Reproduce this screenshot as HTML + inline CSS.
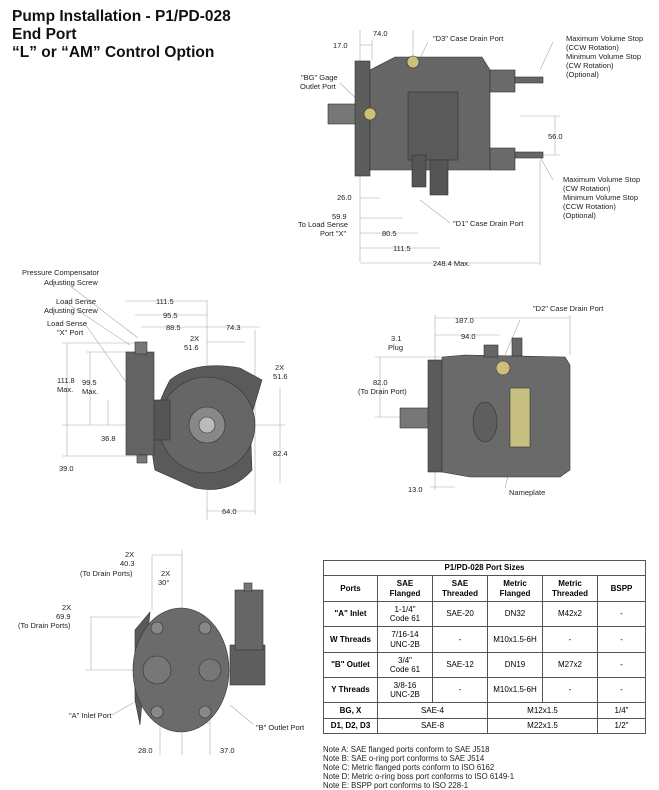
<!DOCTYPE html>
<html><head><meta charset="utf-8"><style>
body{margin:0;background:#fff;width:659px;height:790px;overflow:hidden;font-family:"Liberation Sans",sans-serif}
h1{position:absolute;left:12px;top:8px;margin:0;font-size:15.5px;line-height:18px;font-weight:bold;color:#111}
table{position:absolute;left:323px;top:560px;border-collapse:collapse;font-size:8px;width:323px}
td{border:1px solid #555;text-align:center;padding:0;line-height:9.5px}
.b{font-weight:bold}
.notes{position:absolute;left:323px;top:745px;font-size:7.8px;line-height:9px;color:#222}
svg{position:absolute;left:0;top:0}
svg text{font-family:"Liberation Sans",sans-serif;font-size:7.5px;fill:#222}
</style></head><body>
<h1>Pump Installation - P1/PD-028<br>End Port<br>“L” or “AM” Control Option</h1>
<svg width="659" height="790">
<g stroke="#aaa" stroke-width="0.6" fill="none">
<!-- top pump dims -->
<line x1="360" y1="30" x2="360" y2="262"/><line x1="413" y1="30" x2="413" y2="60"/>
<line x1="360" y1="45" x2="372" y2="45"/><line x1="372" y1="40" x2="372" y2="60"/>
<line x1="360" y1="198" x2="380" y2="198"/><line x1="360" y1="218" x2="403" y2="218"/>
<line x1="360" y1="233" x2="418" y2="233"/><line x1="360" y1="248" x2="440" y2="248"/>
<line x1="360" y1="263" x2="540" y2="263"/><line x1="540" y1="160" x2="540" y2="265"/>
<line x1="520" y1="116" x2="560" y2="116"/><line x1="520" y1="155" x2="560" y2="155"/>
<line x1="555" y1="116" x2="555" y2="155"/>
<!-- middle left dims -->
<line x1="125" y1="301" x2="207" y2="301"/><line x1="135" y1="315" x2="207" y2="315"/>
<line x1="141" y1="327" x2="207" y2="327"/><line x1="207" y1="327" x2="260" y2="327"/>
<line x1="207" y1="342" x2="245" y2="342"/><line x1="207" y1="300" x2="207" y2="520"/>
<line x1="62" y1="343" x2="140" y2="343"/><line x1="86" y1="352" x2="140" y2="352"/>
<line x1="67" y1="343" x2="67" y2="456"/><line x1="90" y1="352" x2="90" y2="425"/>
<line x1="108" y1="400" x2="108" y2="425"/><line x1="62" y1="425" x2="285" y2="425"/>
<line x1="62" y1="456" x2="140" y2="456"/><line x1="280" y1="388" x2="280" y2="483"/>
<line x1="207" y1="511" x2="255" y2="511"/><line x1="255" y1="330" x2="255" y2="515"/>
<!-- right pump dims -->
<line x1="435" y1="318" x2="570" y2="318"/><line x1="435" y1="335" x2="500" y2="335"/>
<line x1="435" y1="315" x2="435" y2="490"/><line x1="570" y1="315" x2="570" y2="355"/>
<line x1="375" y1="357" x2="440" y2="357"/><line x1="375" y1="417" x2="440" y2="417"/>
<line x1="380" y1="357" x2="380" y2="417"/><line x1="430" y1="487" x2="455" y2="487"/>
<!-- bottom pump dims -->
<line x1="152" y1="555" x2="182" y2="555"/><line x1="182" y1="550" x2="182" y2="755"/>
<line x1="152" y1="555" x2="152" y2="610"/><line x1="90" y1="617" x2="140" y2="617"/>
<line x1="91" y1="617" x2="91" y2="670"/><line x1="85" y1="670" x2="265" y2="670"/>
<line x1="160" y1="723" x2="182" y2="723"/><line x1="182" y1="723" x2="210" y2="723"/>
<line x1="160" y1="720" x2="160" y2="755"/><line x1="210" y1="720" x2="210" y2="755"/>
<!-- leader lines -->
<line x1="65" y1="282" x2="138" y2="338"/><line x1="65" y1="302" x2="130" y2="345"/>
<line x1="85" y1="324" x2="128" y2="385"/><line x1="340" y1="83" x2="368" y2="110"/>
<line x1="428" y1="42" x2="420" y2="58"/><line x1="420" y1="200" x2="450" y2="223"/>
<line x1="520" y1="320" x2="505" y2="355"/><line x1="515" y1="450" x2="505" y2="488"/>
<line x1="553" y1="42" x2="540" y2="70"/><line x1="553" y1="180" x2="540" y2="157"/>
<line x1="112" y1="715" x2="147" y2="695"/><line x1="253" y1="724" x2="230" y2="705"/>
</g>
<!-- top pump -->
<g stroke="#333" stroke-width="0.6">
<rect x="328" y="104" width="30" height="20" fill="#777"/>
<rect x="355" y="61" width="15" height="115" fill="#5d5d5d"/>
<path d="M370 70 L395 57 L482 57 L490 70 L490 170 L370 170 Z" fill="#666"/>
<rect x="490" y="70" width="25" height="22" fill="#6a6a6a"/><rect x="515" y="77" width="28" height="6" fill="#666"/>
<rect x="490" y="148" width="25" height="22" fill="#6a6a6a"/><rect x="515" y="152" width="28" height="6" fill="#666"/>
<rect x="408" y="92" width="50" height="68" fill="#5a5a5a"/>
<rect x="412" y="155" width="14" height="32" fill="#555"/><rect x="430" y="160" width="18" height="35" fill="#555"/>
<circle cx="413" cy="62" r="6" fill="#cbbf7a"/><circle cx="370" cy="114" r="6" fill="#cbbf7a"/>
</g>
<!-- middle left pump -->
<g stroke="#333" stroke-width="0.6">
<path d="M170 380 Q195 360 240 368 L262 380 L250 420 L252 470 Q230 495 195 488 L155 470 Q145 425 170 380Z" fill="#5a5a5a"/>
<circle cx="207" cy="425" r="48" fill="#666"/>
<circle cx="207" cy="425" r="18" fill="#888"/><circle cx="207" cy="425" r="8" fill="#bbb"/>
<rect x="150" y="400" width="20" height="40" fill="#555"/>
<rect x="126" y="352" width="28" height="103" fill="#636363"/>
<rect x="135" y="342" width="12" height="12" fill="#777"/><rect x="137" y="455" width="10" height="8" fill="#777"/>
</g>
<!-- right pump -->
<g stroke="#333" stroke-width="0.6">
<rect x="400" y="408" width="30" height="20" fill="#777"/>
<rect x="428" y="360" width="14" height="112" fill="#5b5b5b"/>
<path d="M442 357 L465 355 L565 357 L570 365 L570 470 L560 477 L470 477 L442 472 Z" fill="#6a6a6a"/>
<rect x="484" y="345" width="14" height="12" fill="#666"/><rect x="512" y="338" width="10" height="18" fill="#666"/>
<circle cx="503" cy="368" r="7" fill="#cbbf7a"/>
<rect x="510" y="388" width="20" height="59" fill="#c8c083"/>
<ellipse cx="485" cy="422" rx="12" ry="20" fill="#5e5e5e"/>
</g>
<!-- bottom pump -->
<g stroke="#333" stroke-width="0.6">
<path d="M135 630 L150 612 L140 725 L135 700Z" fill="#5a5a5a"/>
<rect x="230" y="645" width="35" height="40" fill="#5e5e5e"/>
<rect x="235" y="590" width="28" height="60" fill="#666"/><rect x="244" y="583" width="8" height="8" fill="#777"/>
<ellipse cx="181" cy="670" rx="48" ry="62" fill="#6b6b6b"/>
<circle cx="157" cy="670" r="14" fill="#777"/><circle cx="210" cy="670" r="11" fill="#777"/>
<circle cx="157" cy="628" r="6" fill="#888"/><circle cx="205" cy="628" r="6" fill="#888"/>
<circle cx="157" cy="712" r="6" fill="#888"/><circle cx="205" cy="712" r="6" fill="#888"/>
</g>
<!-- labels -->
<text x="373" y="36">74.0</text><text x="333" y="48">17.0</text>
<text x="433" y="41">"D3" Case Drain Port</text>
<text x="301" y="80">"BG" Gage</text><text x="300" y="89">Outlet Port</text>
<text x="566" y="41">Maximum Volume Stop</text><text x="566" y="50">(CCW Rotation)</text><text x="566" y="59">Minimum Volume Stop</text><text x="566" y="68">(CW Rotation)</text><text x="566" y="77">(Optional)</text>
<text x="548" y="139">56.0</text>
<text x="563" y="182">Maximum Volume Stop</text><text x="563" y="191">(CW Rotation)</text><text x="563" y="200">Minimum Volume Stop</text><text x="563" y="209">(CCW Rotation)</text><text x="563" y="218">(Optional)</text>
<text x="337" y="200">26.0</text><text x="332" y="219">59.9</text><text x="298" y="227">To Load Sense</text><text x="320" y="236">Port "X"</text>
<text x="382" y="236">80.5</text><text x="393" y="251">111.5</text><text x="433" y="266">248.4 Max.</text>
<text x="453" y="226">"D1" Case Drain Port</text>
<text x="22" y="275">Pressure Compensator</text><text x="44" y="285">Adjusting Screw</text>
<text x="56" y="304">Load Sense</text><text x="44" y="313">Adjusting Screw</text>
<text x="47" y="326">Load Sense</text><text x="57" y="335">"X" Port</text>
<text x="156" y="304">111.5</text><text x="163" y="318">95.5</text><text x="166" y="330">88.5</text><text x="226" y="330">74.3</text>
<text x="190" y="341">2X</text><text x="184" y="350">51.6</text>
<text x="275" y="370">2X</text><text x="273" y="379">51.6</text>
<text x="57" y="383">111.8</text><text x="57" y="392">Max.</text><text x="82" y="385">99.5</text><text x="82" y="394">Max.</text>
<text x="101" y="441">36.8</text><text x="59" y="471">39.0</text>
<text x="273" y="456">82.4</text><text x="222" y="514">64.0</text>
<text x="533" y="311">"D2" Case Drain Port</text>
<text x="455" y="323">187.0</text><text x="461" y="339">94.0</text>
<text x="391" y="341">3.1</text><text x="388" y="350">Plug</text>
<text x="373" y="385">82.0</text><text x="358" y="394">(To Drain Port)</text>
<text x="408" y="492">13.0</text><text x="509" y="495">Nameplate</text>
<text x="125" y="557">2X</text><text x="120" y="566">40.3</text><text x="80" y="576">(To Drain Ports)</text>
<text x="161" y="576">2X</text><text x="158" y="585">30°</text>
<text x="62" y="610">2X</text><text x="56" y="619">69.9</text><text x="18" y="628">(To Drain Ports)</text>
<text x="69" y="718">"A" Inlet Port</text><text x="256" y="730">"B" Outlet Port</text>
<text x="138" y="753">28.0</text><text x="220" y="753">37.0</text>
</svg>
<table>
<tr style="height:15px"><td colspan="6" class="b">P1/PD-028 Port Sizes</td></tr>
<tr style="height:26px" class="b"><td style="width:53px">Ports</td><td style="width:54px">SAE<br>Flanged</td><td style="width:54px">SAE<br>Threaded</td><td style="width:54px">Metric<br>Flanged</td><td style="width:54px">Metric<br>Threaded</td><td>BSPP</td></tr>
<tr style="height:25px"><td class="b">"A" Inlet</td><td>1-1/4"<br>Code 61</td><td>SAE-20</td><td>DN32</td><td>M42x2</td><td>-</td></tr>
<tr style="height:26px"><td class="b">W Threads</td><td>7/16-14<br>UNC-2B</td><td>-</td><td>M10x1.5-6H</td><td>-</td><td>-</td></tr>
<tr style="height:25px"><td class="b">"B" Outlet</td><td>3/4"<br>Code 61</td><td>SAE-12</td><td>DN19</td><td>M27x2</td><td>-</td></tr>
<tr style="height:25px"><td class="b">Y Threads</td><td>3/8-16<br>UNC-2B</td><td>-</td><td>M10x1.5-6H</td><td>-</td><td>-</td></tr>
<tr style="height:16px"><td class="b">BG, X</td><td colspan="2">SAE-4</td><td colspan="2">M12x1.5</td><td>1/4"</td></tr>
<tr style="height:15px"><td class="b">D1, D2, D3</td><td colspan="2">SAE-8</td><td colspan="2">M22x1.5</td><td>1/2"</td></tr>
</table>
<div class="notes">Note A: SAE flanged ports conform to SAE J518<br>Note B: SAE o-ring port conforms to SAE J514<br>Note C: Metric flanged ports conform to ISO 6162<br>Note D: Metric o-ring boss port conforms to ISO 6149-1<br>Note E: BSPP port conforms to ISO 228-1</div>
</body></html>
